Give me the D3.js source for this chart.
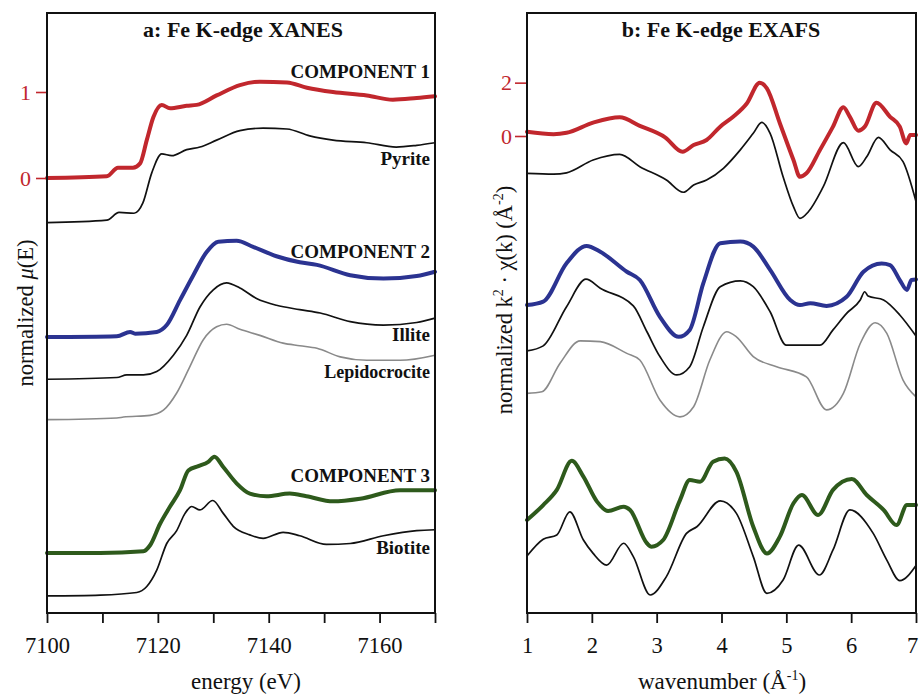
<!DOCTYPE html>
<html>
<head>
<meta charset="utf-8">
<script src="https://cdn.jsdelivr.net/npm/d3@7"></script>
<style>
  html, body { margin: 0; padding: 0; background: #fff; }
  svg { display: block; font-family: "Liberation Serif", "Times New Roman", serif; }
</style>
</head>
<body>
<svg id="chart" width="920" height="696"></svg>
<script>
// ---- Fe K-edge XANES: [energy (eV), stacked normalized mu(E)] ----
const xanesComp1 = [[7100,0],[7110.8,0.02],[7112.8,0.12],[7115.5,0.12],[7116.8,0.17],[7118,0.44],[7119.2,0.71],[7120.7,0.85],[7122.2,0.81],[7125.2,0.84],[7127,0.85],[7130.6,0.96],[7134.8,1.08],[7138.4,1.12],[7143.3,1.11],[7146.9,1.05],[7151.6,1.0],[7157.7,0.96],[7162.4,0.91],[7166.7,0.93],[7170,0.95]];
const xanesPyrite = [[7100,-0.52],[7110.8,-0.49],[7113,-0.40],[7115.7,-0.41],[7117.3,-0.29],[7118.9,0.06],[7120.7,0.28],[7122.5,0.26],[7125.2,0.33],[7127.6,0.36],[7130.6,0.44],[7134.8,0.55],[7139,0.58],[7143.3,0.57],[7147.4,0.49],[7151.6,0.44],[7157.7,0.41],[7163,0.36],[7166.7,0.38],[7170,0.41]];
const xanesComp2 = [[7100,-1.85],[7112.6,-1.84],[7115,-1.79],[7115.9,-1.81],[7119.8,-1.79],[7121.6,-1.71],[7124,-1.42],[7126.4,-1.13],[7128.8,-0.86],[7130.9,-0.74],[7134.2,-0.73],[7137.2,-0.80],[7141.4,-0.91],[7145.6,-0.98],[7148.7,-1.01],[7154.7,-1.13],[7160.7,-1.17],[7166.7,-1.14],[7170,-1.09]];
const xanesIllite = [[7100,-2.34],[7112.6,-2.32],[7114.4,-2.29],[7117.4,-2.29],[7119.8,-2.25],[7122.8,-2.06],[7125.2,-1.83],[7127.6,-1.50],[7130,-1.30],[7132.4,-1.22],[7134.8,-1.28],[7137.8,-1.40],[7141.4,-1.48],[7145.6,-1.53],[7149.3,-1.57],[7154.7,-1.67],[7160.7,-1.71],[7166.7,-1.68],[7170,-1.63]];
const xanesLepido = [[7100,-2.81],[7112.6,-2.79],[7113.8,-2.78],[7118.6,-2.76],[7121,-2.70],[7123.4,-2.50],[7125.8,-2.19],[7128.2,-1.88],[7130.6,-1.73],[7132.4,-1.70],[7134.8,-1.76],[7138.4,-1.83],[7142.6,-1.92],[7145.6,-1.95],[7148.7,-1.98],[7152.9,-2.08],[7157.7,-2.12],[7163.7,-2.12],[7170,-2.06]];
const xanesComp3 = [[7100,-4.36],[7109.6,-4.36],[7117.4,-4.34],[7118.6,-4.27],[7120.4,-4.02],[7122.2,-3.82],[7124,-3.63],[7125.5,-3.40],[7127.3,-3.35],[7129.1,-3.30],[7130.2,-3.24],[7131.8,-3.36],[7134.2,-3.55],[7136.6,-3.67],[7139.6,-3.70],[7143.8,-3.67],[7146.8,-3.70],[7151.6,-3.76],[7156.5,-3.73],[7163.7,-3.63],[7170,-3.63]];
const xanesBiotite = [[7100,-4.86],[7109.6,-4.85],[7116.2,-4.82],[7118,-4.75],[7119.8,-4.56],[7121.6,-4.25],[7123.4,-4.10],[7124.9,-3.90],[7126.1,-3.82],[7127.6,-3.86],[7129.9,-3.75],[7131.8,-3.90],[7133.6,-4.05],[7136.6,-4.15],[7139,-4.19],[7142.6,-4.12],[7145.6,-4.16],[7150.4,-4.26],[7154.7,-4.25],[7160.7,-4.16],[7166.7,-4.10],[7170,-4.09]];

// ---- Fe K-edge EXAFS: [k (1/Å), stacked normalized k^2 chi(k)] ----
const exafsComp1 = [[1.0,0.16],[1.41,0.07],[1.61,0.12],[2.02,0.50],[2.43,0.70],[2.74,0.38],[3.13,-0.05],[3.40,-0.59],[3.57,-0.34],[3.77,-0.15],[3.98,0.35],[4.18,0.72],[4.39,1.22],[4.59,2.0],[4.70,1.79],[4.90,0.48],[5.11,-0.90],[5.21,-1.53],[5.31,-1.40],[5.52,-0.52],[5.72,0.35],[5.88,1.08],[5.98,0.72],[6.11,0.20],[6.21,0.35],[6.39,1.25],[6.60,0.72],[6.75,0.35],[6.85,-0.28],[6.91,0.04],[7.0,0.04]];
const exafsPyrite = [[1.0,-1.40],[1.41,-1.43],[1.61,-1.38],[2.02,-0.90],[2.43,-0.69],[2.74,-1.15],[3.15,-1.65],[3.41,-2.11],[3.57,-1.84],[3.77,-1.65],[4.03,-1.21],[4.29,-0.52],[4.49,0.10],[4.62,0.51],[4.75,0.10],[4.95,-1.53],[5.11,-2.65],[5.21,-3.09],[5.34,-2.84],[5.57,-1.90],[5.88,-0.25],[6.11,-1.15],[6.24,-0.78],[6.42,-0.05],[6.60,-0.52],[6.80,-0.96],[7.0,-2.46]];
const exafsComp2 = [[1.0,-6.34],[1.25,-6.21],[1.61,-4.77],[1.92,-4.12],[2.13,-4.34],[2.54,-5.09],[2.74,-5.40],[3.05,-6.78],[3.34,-7.53],[3.51,-7.27],[3.72,-5.52],[3.98,-4.02],[4.29,-3.96],[4.49,-4.15],[4.75,-5.02],[5.06,-6.15],[5.21,-6.34],[5.37,-6.27],[5.62,-6.37],[5.93,-6.03],[6.19,-5.09],[6.47,-4.78],[6.60,-4.84],[6.75,-5.40],[6.86,-5.77],[6.93,-5.40],[7.0,-5.38]];
const exafsIllite = [[1.0,-8.06],[1.25,-7.87],[1.61,-6.40],[1.91,-5.37],[2.13,-5.71],[2.64,-6.37],[2.85,-7.34],[3.05,-8.27],[3.31,-8.96],[3.51,-8.65],[3.72,-7.15],[3.98,-5.65],[4.29,-5.43],[4.49,-5.65],[4.75,-6.59],[5.0,-7.84],[5.11,-7.84],[5.52,-7.84],[5.72,-7.27],[5.93,-6.65],[6.14,-6.15],[6.21,-5.84],[6.26,-6.0],[6.50,-6.15],[6.75,-6.71],[7.0,-7.50]];
const exafsLepido = [[1.0,-9.65],[1.23,-9.59],[1.51,-8.52],[1.82,-7.68],[2.13,-7.71],[2.54,-8.15],[2.74,-8.40],[3.05,-9.90],[3.36,-10.53],[3.57,-10.15],[3.82,-8.40],[4.08,-7.34],[4.23,-7.53],[4.49,-8.27],[4.85,-8.65],[5.31,-9.03],[5.62,-10.27],[5.88,-9.65],[6.14,-7.78],[6.37,-7.0],[6.55,-7.40],[6.80,-9.15],[7.0,-9.78]];
const exafsComp3 = [[1.0,-14.4],[1.25,-13.84],[1.46,-13.27],[1.69,-12.18],[1.87,-12.77],[2.08,-13.71],[2.25,-14.06],[2.49,-13.90],[2.59,-14.02],[2.85,-15.27],[2.92,-15.40],[3.10,-15.15],[3.36,-13.65],[3.51,-12.90],[3.67,-12.96],[3.87,-12.21],[4.05,-12.09],[4.23,-12.59],[4.49,-14.65],[4.70,-15.65],[4.90,-15.02],[5.11,-13.77],[5.24,-13.46],[5.49,-14.21],[5.72,-13.27],[6.01,-12.86],[6.24,-13.46],[6.50,-14.02],[6.70,-14.59],[6.86,-13.84],[7.0,-13.84]];
const exafsBiotite = [[1.0,-15.75],[1.25,-15.12],[1.46,-14.96],[1.66,-14.09],[1.87,-15.15],[2.02,-15.65],[2.23,-16.09],[2.49,-15.27],[2.64,-15.77],[2.90,-17.21],[3.15,-16.52],[3.46,-14.90],[3.62,-14.65],[3.98,-13.68],[4.23,-14.15],[4.49,-15.77],[4.70,-17.15],[4.95,-16.65],[5.19,-15.34],[5.51,-16.46],[5.72,-15.52],[5.98,-14.02],[6.34,-14.90],[6.55,-15.90],[6.75,-16.67],[7.0,-16.10]];

// ---- axis ticks and labels ----
const xanesTicks = [7100, 7110, 7120, 7130, 7140, 7150, 7160, 7170];
const xanesTickLabels = [7100, 7120, 7140, 7160];
const xanesYTicks = [0, 1];
const exafsTicks = [1, 2, 3, 4, 5, 6, 7];
const exafsYTicks = [0, 2];

// curve name labels on the XANES panel: [name, y value of baseline]
const xanesLabels = [
  ["COMPONENT 1", 1.16], ["Pyrite", 0.15],
  ["COMPONENT 2", -0.93], ["Illite", -1.90],
  ["Lepidocrocite", -2.33],
  ["COMPONENT 3", -3.54], ["Biotite", -4.37]
];

const RED = "#c1272d", BLUE = "#2b3391", GREEN = "#2e5a1c", BLACK = "#111", GRAY = "#8a8a8a";

const svg = d3.select("#chart");
const plotTop = 13, plotBottom = 613;

function panel(opts) {
  const x = d3.scaleLinear().domain(opts.xDomain).range(opts.xRange);
  const y = d3.scaleLinear().domain(opts.yDomain).range([plotBottom, plotTop]);
  const g = svg.append("g");

  // x axis
  const xa = g.append("g")
    .attr("transform", `translate(0,${plotBottom})`)
    .call(d3.axisBottom(x).tickValues(opts.xTicks).tickSize(10).tickSizeOuter(0)
      .tickFormat(d => opts.xLabelSet.includes(d) ? d3.format("d")(d) : ""));
  xa.select(".domain").remove();
  xa.selectAll(".tick line").attr("stroke", BLACK).attr("stroke-width", 1.8);
  xa.selectAll(".tick text").attr("font-size", 22.5).attr("fill", "#111")
    .attr("font-family", "Liberation Serif, Times New Roman, serif")
    .attr("y", 40).attr("dy", null)
    .attr("dx", (d, i, n) => (opts.shiftLast && i === n.length - 1) ? -4 : 0);

  // y axis (red ticks)
  const ya = g.append("g")
    .attr("transform", `translate(${opts.xRange[0]},0)`)
    .call(d3.axisLeft(y).tickValues(opts.yTicks).tickSize(opts.yTickSize).tickSizeOuter(0)
      .tickPadding(opts.yTickPad).tickFormat(d3.format("d")));
  ya.select(".domain").remove();
  ya.selectAll(".tick line").attr("stroke", RED).attr("stroke-width", 1.6);
  ya.selectAll(".tick text").attr("font-size", 22).attr("fill", RED)
    .attr("font-family", "Liberation Serif, Times New Roman, serif");

  // curves
  const line = d3.line().x(d => x(d[0])).y(d => y(d[1])).curve(d3.curveMonotoneX);
  opts.series.forEach(s => {
    g.append("path").datum(s.data)
      .attr("fill", "none").attr("stroke", s.color).attr("stroke-width", s.width)
      .attr("stroke-linejoin", "round").attr("stroke-linecap", "round")
      .attr("d", line);
  });

  // frame
  g.append("rect")
    .attr("x", opts.xRange[0]).attr("y", plotTop)
    .attr("width", opts.xRange[1] - opts.xRange[0]).attr("height", plotBottom - plotTop)
    .attr("fill", "none").attr("stroke", BLACK).attr("stroke-width", 2);

  // title
  g.append("text").attr("x", opts.titleX).attr("y", 37)
    .attr("text-anchor", "middle").attr("font-size", 22).attr("font-weight", "bold")
    .attr("fill", "#111").text(opts.title);

  // x title
  g.append("text").attr("x", opts.xTitleX).attr("y", 689)
    .attr("text-anchor", "middle").attr("font-size", 23).attr("fill", "#111")
    .call(opts.xTitle);

  // y title
  g.append("text").attr("transform", `translate(${opts.yTitleX},${opts.yTitleY}) rotate(-90)`)
    .attr("text-anchor", "middle").attr("font-size", 22.5).attr("fill", "#111")
    .call(opts.yTitle);

  return { x, y, g };
}

// a: XANES
const a = panel({
  xDomain: [7100, 7170], xRange: [47, 435],
  yDomain: [(178 - 613) / 86, (178 - 13) / 86],
  xTicks: xanesTicks, xLabelSet: xanesTickLabels, yTicks: xanesYTicks,
  yTickSize: 11, yTickPad: 5,
  title: "a: Fe K-edge XANES", titleX: 243,
  xTitleX: 246, xTitle: t => t.text("energy (eV)"),
  yTitleX: 33, yTitleY: 313,
  yTitle: t => {
    t.append("tspan").text("normalized ");
    t.append("tspan").attr("font-style", "italic").text("μ");
    t.append("tspan").text("(E)");
  },
  series: [
    { data: xanesLepido, color: GRAY, width: 1.6 },
    { data: xanesIllite, color: BLACK, width: 1.7 },
    { data: xanesComp2, color: BLUE, width: 4 },
    { data: xanesPyrite, color: BLACK, width: 1.7 },
    { data: xanesComp1, color: RED, width: 4 },
    { data: xanesBiotite, color: BLACK, width: 1.7 },
    { data: xanesComp3, color: GREEN, width: 4 }
  ]
});

a.g.selectAll("text.curve-label").data(xanesLabels).enter().append("text")
  .attr("class", "curve-label")
  .attr("x", 430).attr("y", d => a.y(d[1]))
  .attr("text-anchor", "end").attr("font-size", d => d[0] === "Lepidocrocite" ? 18 : 19)
  .attr("font-weight", "bold")
  .attr("fill", "#111").text(d => d[0]);

// b: EXAFS
panel({
  xDomain: [1, 7], xRange: [527, 916],
  yDomain: [(136 - 613) / 26.67, (136 - 13) / 26.67],
  xTicks: exafsTicks, xLabelSet: exafsTicks, yTicks: exafsYTicks, shiftLast: true,
  yTickSize: 12, yTickPad: 3,
  title: "b: Fe K-edge EXAFS", titleX: 721,
  xTitleX: 722,
  xTitle: t => {
    t.append("tspan").text("wavenumber (Å");
    t.append("tspan").attr("font-size", 14).attr("dy", -9).text("-1");
    t.append("tspan").attr("dy", 9).text(")");
  },
  yTitleX: 512, yTitleY: 300,
  yTitle: t => {
    t.append("tspan").text("normalized k");
    t.append("tspan").attr("font-size", 14).attr("dy", -9).text("2");
    t.append("tspan").attr("dy", 9).text(" · χ(k)  (Å");
    t.append("tspan").attr("font-size", 14).attr("dy", -9).text("-2");
    t.append("tspan").attr("dy", 9).text(")");
  },
  series: [
    { data: exafsLepido, color: GRAY, width: 1.6 },
    { data: exafsIllite, color: BLACK, width: 1.7 },
    { data: exafsComp2, color: BLUE, width: 4 },
    { data: exafsPyrite, color: BLACK, width: 1.7 },
    { data: exafsComp1, color: RED, width: 4 },
    { data: exafsBiotite, color: BLACK, width: 1.7 },
    { data: exafsComp3, color: GREEN, width: 4 }
  ]
});
</script>
</body>
</html>
